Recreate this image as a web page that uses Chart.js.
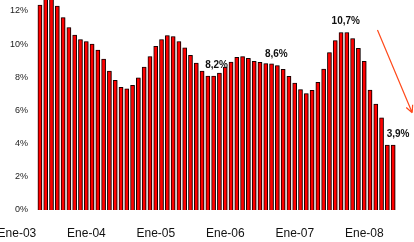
<!DOCTYPE html>
<html>
<head>
<meta charset="utf-8">
<script src="https://cdn.jsdelivr.net/npm/chart.js@4/dist/chart.umd.min.js"></script>
<style>
  html, body { margin: 0; padding: 0; background: #fff; }
  #wrap { width: 414px; height: 242px; position: relative; }
</style>
</head>
<body>
<div id="wrap"><canvas id="chart"></canvas></div>
<script>
// ── Data ──
const months = ['Ene', 'Feb', 'Mar', 'Abr', 'May', 'Jun', 'Jul', 'Ago', 'Sep', 'Oct', 'Nov', 'Dic'];
const years = ['03', '04', '05', '06', '07', '08'];
const monthCount = 62; // Ene-03 .. Feb-08

const rates = [
  12.35, 12.8, 12.8, 12.3, 11.6, 11.0, 10.54, 10.28, 10.16, 10.0, 9.64, 9.1,
  8.38, 7.82, 7.39, 7.3, 7.52, 7.97, 8.61, 9.25, 9.86, 10.28, 10.52, 10.46,
  10.16, 9.78, 9.32, 8.86, 8.37, 8.07, 8.07, 8.25, 8.61, 8.91, 9.2, 9.25,
  9.14, 8.96, 8.9, 8.82, 8.81, 8.7, 8.48, 8.06, 7.65, 7.26, 7.02, 7.21,
  7.7, 8.49, 9.49, 10.21, 10.7, 10.7, 10.34, 9.74, 8.96, 7.23, 6.39, 5.55,
  3.92, 3.92
];

const yTicks = [0, 2, 4, 6, 8, 10, 12];

// value callouts: bar index + text
const calloutIdx = [30, 41, 53, 61];
const calloutText = ['8,2%', '8,6%', '10,7%', '3,9%'];

// labels "Ene-03", "Feb-03", ...
const labels = [];
years.forEach(y => months.forEach(m => { if (labels.length < monthCount) labels.push(m + '-' + y); }));

// ── Plugins ──
const barShadow = {
  id: 'barShadow',
  beforeDatasetsDraw(chart) {
    const ctx = chart.ctx;
    ctx.save();
    ctx.shadowColor = 'rgba(0,0,0,0.3)';
    ctx.shadowOffsetX = 1;
    ctx.shadowOffsetY = 0;
    ctx.shadowBlur = 0;
  },
  afterDatasetsDraw(chart) { chart.ctx.restore(); }
};

const callouts = {
  id: 'callouts',
  afterDatasetsDraw(chart) {
    const { ctx, scales: { x, y } } = chart;
    const dx = [3, -1, -1, 5];
    ctx.save();
    ctx.font = 'bold 10px "Liberation Sans", Arial, sans-serif';
    ctx.fillStyle = '#111';
    ctx.textAlign = 'center';
    ctx.textBaseline = 'middle';
    calloutIdx.forEach((idx, i) => {
      ctx.fillText(calloutText[i], x.getPixelForValue(idx) + dx[i], y.getPixelForValue(rates[idx]) - 11);
    });

    // trend arrow
    const x0 = x.getPixelForValue(58.3), y0 = y.getPixelForValue(10.85);
    const x1 = x.getPixelForValue(64.3), y1 = y.getPixelForValue(5.86);
    const ang = Math.atan2(y1 - y0, x1 - x0);
    ctx.strokeStyle = '#ff4a1c';
    ctx.lineWidth = 1.2;
    ctx.beginPath();
    ctx.moveTo(x0, y0); ctx.lineTo(x1, y1);
    ctx.moveTo(x1, y1); ctx.lineTo(x1 - 8 * Math.cos(ang - 0.45), y1 - 8 * Math.sin(ang - 0.45));
    ctx.moveTo(x1, y1); ctx.lineTo(x1 - 8 * Math.cos(ang + 0.45), y1 - 8 * Math.sin(ang + 0.45));
    ctx.stroke();
    ctx.restore();
  }
};

// ── Chart ──
new Chart(document.getElementById('chart'), {
  type: 'bar',
  data: {
    labels,
    datasets: [{
      data: rates,
      backgroundColor: '#ff0000',
      borderColor: '#1a0000',
      borderWidth: 1,
      barThickness: 4,
      borderSkipped: 'bottom'
    }]
  },
  options: {
    responsive: true,
    maintainAspectRatio: false,
    animation: false,
    layout: { padding: { left: 0, right: 18, top: 0, bottom: 0 } },
    plugins: { legend: { display: false }, tooltip: { enabled: false } },
    scales: {
      x: {
        grid: { display: false, drawTicks: false },
        border: { display: false },
        afterFit: s => { s.height = 32; },
        ticks: {
          autoSkip: false,
          maxRotation: 0,
          padding: 16,
          labelOffset: -23,
          color: '#111',
          font: { family: '"Liberation Sans", Arial, sans-serif', size: 12 },
          callback: (v, i) => i % 12 === 0 ? labels[i] : ''
        }
      },
      y: {
        min: 0,
        max: 12.66,
        grid: { display: false, drawTicks: false },
        border: { display: false },
        afterFit: s => { s.width = 37; s.paddingTop = 0; s.paddingBottom = 0; },
        afterBuildTicks: s => { s.ticks = yTicks.map(v => ({ value: v })); },
        ticks: {
          padding: 9,
          color: '#222',
          font: { family: '"Liberation Sans", Arial, sans-serif', size: 9 },
          callback: v => v + '%'
        }
      }
    }
  },
  plugins: [barShadow, callouts]
});
</script>
</body>
</html>
